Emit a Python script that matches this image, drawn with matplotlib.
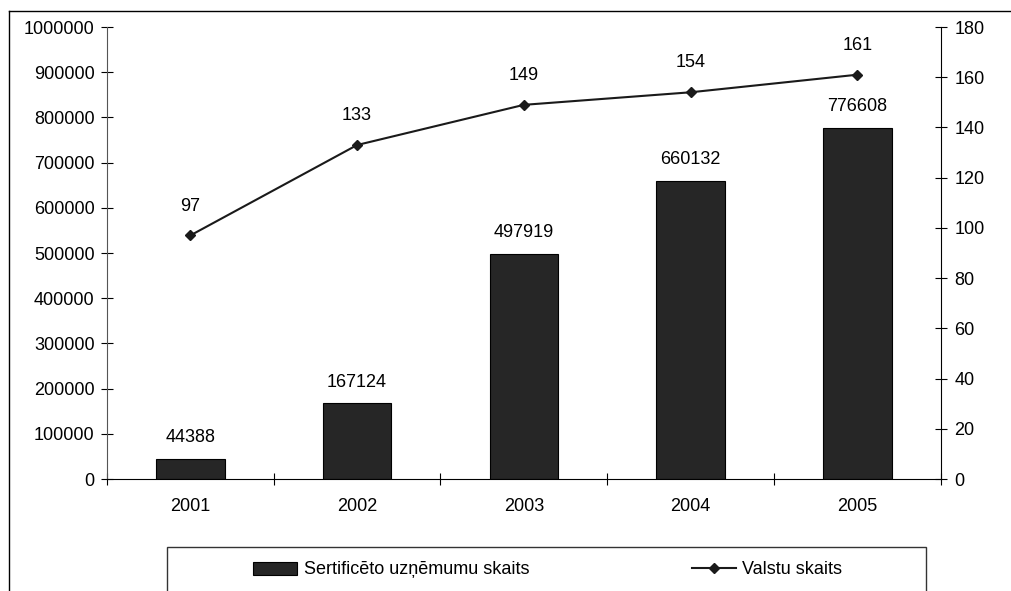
import matplotlib
matplotlib.use("Agg")
import matplotlib.pyplot as plt
from matplotlib.patches import Rectangle
from matplotlib.lines import Line2D
from matplotlib.ticker import FuncFormatter
import numpy as np

# data
years = ["2001", "2002", "2003", "2004", "2005"]
companies = [44388, 167124, 497919, 660132, 776608]
countries = [97, 133, 149, 154, 161]

plt.rcParams['font.family'] = ['Liberation Sans', 'DejaVu Sans']
plt.rcParams['font.size'] = 13

W, H = 1012, 591
fig = plt.figure(figsize=(W / 100, H / 100), dpi=100)
ax1 = fig.add_axes([107 / W, 1 - 479 / H, (940.7 - 107) / W, (479 - 27) / H])
ax2 = ax1.twinx()

x = np.arange(len(years))
bars = ax1.bar(x, companies, width=0.41, color='#262626', edgecolor='black', linewidth=0.8,
               label='Sertificēto uzņēmumu skaits', zorder=2)
for xi, v in zip(x, companies):
    ax1.annotate(str(v), (xi, v), xytext=(0, 9), textcoords='offset points',
                 ha='center', va='bottom')

ax2.plot(x, countries, color='#1a1a1a', lw=1.5, marker='D', markersize=5,
         label='Valstu skaits', zorder=3)
for xi, v in zip(x, countries):
    ax2.annotate(str(v), (xi, v), xytext=(0, 15), textcoords='offset points',
                 ha='center', va='bottom')

ax1.set_xlim(-0.5, len(years) - 0.5)
ax1.set_ylim(0, 1000000)
ax1.set_yticks(np.arange(0, 1000001, 100000))
ax1.yaxis.set_major_formatter(FuncFormatter(lambda v, p: f"{int(round(v))}"))
ax2.set_ylim(0, 180)
ax2.set_yticks(np.arange(0, 181, 20))

# category boundaries as major ticks, labels on minor ticks
ax1.set_xticks(np.arange(-0.5, len(years), 1.0))
ax1.set_xticklabels([])
ax1.set_xticks(x, minor=True)
ax1.set_xticklabels(years, minor=True)
ax1.tick_params(axis='x', which='major', direction='inout', length=8, width=0.8)
ax1.tick_params(axis='x', which='minor', length=0, pad=14)

ax1.tick_params(axis='y', direction='inout', length=8, width=0.8, pad=5)
ax2.tick_params(axis='y', direction='inout', length=8, width=0.8, pad=6)

for a in (ax1, ax2):
    a.spines['top'].set_visible(False)
ax1.spines['left'].set_color('#555555')
ax2.spines['left'].set_visible(False)
ax2.spines['bottom'].set_visible(False)
ax1.spines['right'].set_visible(False)
ax2.spines['right'].set_color('black')

# outer frame (left and top edges visible)
fig.add_artist(Line2D([9 / W, 9 / W], [-0.1, 1 - 11 / H], transform=fig.transFigure,
                      color='black', lw=1))
fig.add_artist(Line2D([9 / W, 1.1], [1 - 11 / H, 1 - 11 / H], transform=fig.transFigure,
                      color='black', lw=1))

# legend box
fig.add_artist(Rectangle((167 / W, -0.1), (925.7 - 167) / W, 0.1 + 1 - 547 / H,
                         transform=fig.transFigure, fill=False, edgecolor='#333333', lw=1))
handles = [bars, ax2.get_lines()[0]]
labels = ['Sertificēto uzņēmumu skaits', 'Valstu skaits']
fig.legend(handles, labels, loc='center left', bbox_to_anchor=(253 / W, 1 - 570 / H),
           ncol=2, frameon=False, borderpad=0, borderaxespad=0, handlelength=2.45,
           handletextpad=0.35, columnspacing=9.0)

fig.savefig('out.png', dpi=100)
